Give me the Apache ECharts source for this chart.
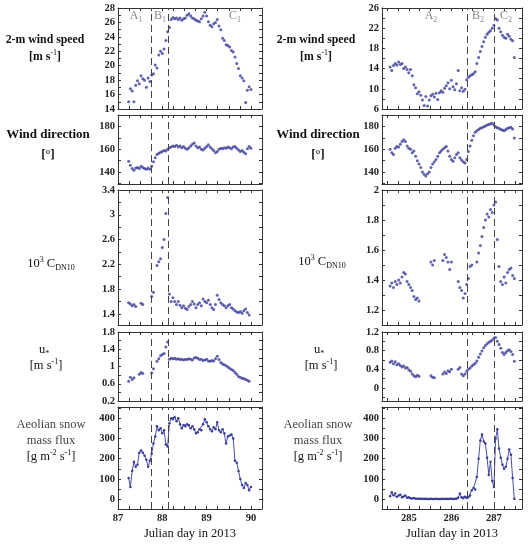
<!DOCTYPE html>
<html>
<head>
<meta charset="utf-8">
<script src="https://cdn.jsdelivr.net/npm/echarts@6/dist/echarts.min.js"></script>
<style>html,body{margin:0;padding:0;background:#fff}#main{width:528px;height:544px}</style>
</head>
<body>
<div id="main"></div>
<script>
// ---- data: Julian day 87-90 (left) and 284-287 (right), 2013
var dayL = [87.24, 87.28, 87.32, 87.36, 87.40, 87.44, 87.48, 87.52, 87.56, 87.60,
	87.64, 87.68, 87.72, 87.76, 87.80, 87.84, 87.88, 87.92, 87.96, 88.00,
	88.04, 88.08, 88.12, 88.16, 88.20, 88.24, 88.28, 88.32, 88.36, 88.40,
	88.44, 88.48, 88.52, 88.56, 88.60, 88.64, 88.68, 88.72, 88.76, 88.80,
	88.84, 88.88, 88.92, 88.96, 89.00, 89.04, 89.08, 89.12, 89.16, 89.20,
	89.24, 89.28, 89.32, 89.36, 89.40, 89.44, 89.48, 89.52, 89.56, 89.60,
	89.64, 89.68, 89.72, 89.76, 89.80, 89.84, 89.88, 89.92, 89.96, 90.00];
var windL = [15.0, 16.8, 16.5, 15.0, 17.3, 17.9, 17.5, 18.6, 18.2, 18.0,
	17.0, 18.3, 17.8, 18.7, 18.9, 20.1, 19.7, 21.5, 22.0, 21.7,
	22.3, 23.5, 24.7, 25.3, 26.4, 26.7, 26.5, 26.6, 26.4, 26.6,
	26.3, 26.5, 26.6, 27.0, 27.2, 26.9, 26.6, 26.5, 26.3, 26.2,
	26.1, 26.5, 26.9, 27.4, 26.9, 26.1, 25.6, 25.4, 25.8, 26.0,
	26.4, 25.5, 25.0, 23.8, 23.5, 22.9, 22.8, 22.6, 22.1, 21.9,
	21.2, 20.3, 19.6, 18.6, 18.3, 17.9, 14.9, 16.6, 17.1, 16.7];
var dirL = [149.5, 146.0, 143.0, 141.5, 143.5, 144.0, 143.0, 145.0, 144.0, 143.0,
	142.5, 143.5, 142.5, 145.0, 149.0, 152.5, 155.5, 156.5, 157.5, 158.0,
	159.0, 158.5, 160.0, 161.5, 162.0, 163.0, 162.5, 163.5, 162.0, 163.0,
	161.5, 162.5, 161.0, 160.0, 161.5, 163.0, 164.5, 165.5, 163.0, 161.5,
	162.0, 160.0, 159.5, 161.0, 162.5, 164.0, 162.0, 160.5, 159.0, 157.0,
	158.0, 160.0, 161.0, 160.5, 161.5, 161.0, 162.0, 161.5, 160.5, 162.0,
	162.5, 161.0, 159.5, 158.0, 159.0, 157.5, 156.0, 160.5, 162.5, 161.0];
var cdnL = [1.58, 1.56, 1.53, 1.55, 1.52, null, null, 1.57, 1.55, null,
	null, null, null, 1.68, 1.75, null, 2.18, 2.24, 2.29, 2.47,
	2.60, 3.02, 3.28, 1.72, 1.60, 1.66, 1.60, 1.55, 1.60, 1.54,
	1.50, 1.53, 1.49, 1.47, 1.52, 1.55, 1.60, 1.56, 1.50, 1.55,
	1.58, 1.53, 1.64, 1.60, 1.58, 1.62, 1.55, 1.50, 1.47, 1.55,
	1.70, 1.63, 1.58, 1.55, 1.53, 1.50, 1.53, 1.55, 1.50, 1.48,
	1.45, 1.43, 1.42, 1.44, 1.41, 1.45, 1.48, 1.42, 1.38, null];
var ustarL = [0.66, 0.75, 0.70, 0.74, null, null, 0.82, 0.86, 0.84, null,
	null, null, null, 0.85, 0.95, null, 1.12, 1.18, 1.25, 1.28,
	1.30, 1.45, 1.57, 1.17, 1.19, 1.18, 1.19, 1.17, 1.18, 1.16,
	1.17, 1.15, 1.17, 1.16, 1.18, 1.17, 1.15, 1.20, 1.21, 1.19,
	1.16, 1.17, 1.14, 1.15, 1.17, 1.13, 1.12, 1.14, 1.13, 1.18,
	1.24, 1.16, 1.09, 1.06, 1.04, 1.02, 0.99, 0.96, 0.93, 0.91,
	0.86, 0.82, 0.77, 0.75, 0.73, 0.72, 0.70, 0.68, 0.66, null];
var fluxL = [105, 60, 140, 185, 160, 170, 230, 240, 230, 215,
	195, 160, 190, 225, 275, 310, 360, 340, 350, 325,
	340, 270, 260, 375, 400, 395, 405, 385, 400, 370,
	350, 365, 360, 370, 365, 350, 360, 345, 325, 330,
	345, 340, 370, 395, 380, 360, 345, 335, 355, 345,
	380, 340, 330, 345, 325, 275, 310, 315, 320, 300,
	190, 180, 140, 100, 70, 55, 80, 70, 45, 60];

var dayR = [284.56, 284.60, 284.64, 284.68, 284.72, 284.76, 284.80, 284.84, 284.88, 284.92,
	284.96, 285.00, 285.04, 285.08, 285.12, 285.16, 285.20, 285.24, 285.28, 285.32,
	285.36, 285.40, 285.44, 285.48, 285.52, 285.56, 285.60, 285.64, 285.68, 285.72,
	285.76, 285.80, 285.84, 285.88, 285.92, 285.96, 286.00, 286.04, 286.08, 286.12,
	286.16, 286.20, 286.24, 286.28, 286.32, 286.36, 286.40, 286.44, 286.48, 286.52,
	286.56, 286.60, 286.64, 286.68, 286.72, 286.76, 286.80, 286.84, 286.88, 286.92,
	286.96, 287.00, 287.04, 287.08, 287.12, 287.16, 287.20, 287.24, 287.28, 287.32,
	287.36, 287.40, 287.44, 287.48];
var windR = [14.3, 13.6, 14.6, 15.0, 14.7, 15.3, 14.8, 15.0, 14.0, 14.3,
	13.8, 13.2, 13.8, 12.6, 10.8, 10.2, 9.0, 9.4, 8.7, 7.8,
	6.7, 8.5, 6.6, 7.8, 8.6, 8.9, 8.4, 9.1, 7.9, 9.2,
	9.6, 9.3, 10.1, 10.6, 11.2, 10.0, 11.7, 10.4, 9.8, 11.0,
	13.6, 9.6, 10.2, 9.5, 9.9, 11.8, 12.3, 12.6, 12.8, 13.0,
	13.4, 15.0, 16.2, 17.4, 18.4, 19.3, 20.2, 20.8, 21.2, 21.5,
	22.0, 22.6, 23.9, 23.6, 22.0, 21.3, 20.6, 20.2, 20.0, 20.8,
	20.4, 19.8, 19.5, 16.2];
var dirR = [160.0, 157.0, 155.5, 161.0, 162.5, 162.0, 164.5, 167.0, 168.5, 167.0,
	163.0, 161.0, 160.0, 157.0, 158.5, 154.0, 150.0, 147.0, 144.0, 140.0,
	138.0, 136.5, 138.5, 140.0, 144.0, 147.0, 149.0, 151.0, 154.0, 157.0,
	158.5, 160.0, 161.5, 162.5, 158.5, 154.0, 151.0, 149.5, 152.5, 155.5,
	157.0, 152.5, 150.5, 149.0, 148.0, 151.0, 158.0, 163.0, 168.0, 172.0,
	175.0, 176.5, 177.5, 178.5, 179.0, 180.0, 180.5, 181.5, 182.0, 182.5,
	183.0, 181.5, 180.0, 179.0, 178.5, 177.5, 177.0, 176.5, 177.5, 178.5,
	179.0, 179.5, 178.0, 170.0];
var cdnR = [1.36, 1.38, 1.35, 1.39, 1.37, 1.40, 1.38, 1.42, 1.45, 1.44,
	1.39, 1.37, 1.35, 1.33, 1.29, 1.27, 1.28, 1.26, null, null,
	null, null, null, null, 1.52, 1.50, 1.53, null, null, null,
	null, 1.53, 1.57, 1.55, 1.52, 1.47, 1.52, null, null, null,
	1.39, 1.35, 1.33, 1.28, 1.31, 1.37, 1.41, 1.49, 1.50, null,
	null, 1.52, 1.58, 1.63, 1.69, 1.75, 1.80, 1.84, 1.82, 1.87,
	1.85, 1.90, 1.92, 1.67, 1.49, 1.39, 1.37, 1.42, 1.38, 1.45,
	1.47, 1.48, 1.43, 1.41];
var ustarR = [0.55, 0.58, 0.52, 0.56, 0.50, 0.52, 0.48, 0.45, 0.47, 0.43,
	0.44, 0.39, 0.36, 0.30, 0.26, 0.24, 0.27, 0.25, null, null,
	null, null, null, null, 0.26, 0.23, 0.22, null, null, null,
	null, 0.30, 0.34, 0.31, 0.37, 0.35, 0.40, null, null, null,
	0.40, 0.44, 0.30, 0.26, 0.30, 0.36, 0.40, 0.43, 0.47, 0.50,
	0.53, 0.58, 0.66, 0.73, 0.79, 0.86, 0.91, 0.95, 0.98, 1.00,
	1.03, 1.07, 1.08, 1.00, 0.93, 0.85, 0.76, 0.72, 0.76, 0.80,
	0.82, 0.78, 0.72, 0.57];
var fluxR = [15, 35, 20, 28, 12, 18, 22, 10, 14, 18,
	8, 10, 5, 4, 6, 3, 2, 3, 2, 2,
	1, 2, 1, 1, 2, 1, 1, 2, 1, 1,
	1, 2, 1, 2, 1, 3, 2, 1, 2, 3,
	8, 28, 10, 5, 12, 6, 10, 18, 45, 55,
	48, 110, 200, 290, 320, 285, 275, 205, 120, 185,
	90, 60, 300, 345, 250, 205, 170, 150, 160, 200,
	245, 220, 105, 3];

// period boundaries (dashed lines)
var bounds = [[87.76, 88.13], [286.37, 287.0]];

// axis ranges and labelled ticks
var xRange = [[87, 90.25], [284.37, 287.66]];
var xLabels = [[87, 88, 89, 90], [285, 286, 287]];
var yRange = [
	[[14, 28], [129.4, 190.3], [1.22, 3.4], [0.2, 1.8], [-48, 455]],
	[[6, 26], [129.4, 190.3], [1.1, 2.0], [-0.28, 1.2], [-48, 455]]
];
var yLabels = [
	[[14, 16, 18, 20, 22, 24, 26, 28], [140, 160, 180], [1.4, 1.8, 2.2, 2.6, 3, 3.4], [0.2, 0.6, 1, 1.4, 1.8], [0, 100, 200, 300, 400]],
	[[6, 10, 14, 18, 22, 26], [140, 160, 180], [1.2, 1.4, 1.6, 1.8, 2], [0, 0.4, 0.8, 1.2], [0, 100, 200, 300, 400]]
];
var yStep = [[1, 10, 0.2, 0.2, 50], [2, 10, 0.1, 0.2, 50]];

// ---- layout
var colLeft = [118, 382];
var colWidth = [144, 140];
var panelTop = [8, 115, 190, 332, 407];
var panelHeight = [101, 69, 135, 69, 102];

var serif = "'Liberation Serif', 'DejaVu Serif', serif";
var dotColor = '#3a3c98';
var frame = '#333';

var cols = [
	{ days: dayL, vals: [windL, dirL, cdnL, ustarL, fluxL] },
	{ days: dayR, vals: [windR, dirR, cdnR, ustarR, fluxR] }
];

function tickList(first, step, min, max) {
	var v = first, out = [];
	while (v - step >= min - 1e-9) v -= step;
	for (; v <= max + 1e-9; v += step) out.push(Math.round(v * 1e6) / 1e6);
	return out;
}

var grid = [], xAxis = [], yAxis = [], series = [];
cols.forEach(function (col, c) {
	var xTicks = tickList(xLabels[c][0], 0.25, xRange[c][0], xRange[c][1]);
	for (var i = 0; i < 5; i++) {
		var g = grid.length;
		grid.push({ left: colLeft[c], top: panelTop[i], width: colWidth[c], height: panelHeight[i] });
		var yr = yRange[c][i];
		var yTicks = tickList(yLabels[c][i][0], yStep[c][i], yr[0], yr[1]);
		['bottom', 'top'].forEach(function (pos) {
			xAxis.push({
				gridIndex: g, type: 'value', position: pos, min: xRange[c][0], max: xRange[c][1],
				axisLine: { show: true, onZero: false, lineStyle: { color: frame } },
				axisTick: { show: true, inside: true, length: 3, customValues: xTicks, lineStyle: { color: frame } },
				axisLabel: {
					show: pos === 'bottom' && i === 4, customValues: xLabels[c], margin: 4,
					fontFamily: serif, fontSize: 10.5, fontWeight: 'bold', color: '#222'
				},
				splitLine: { show: false }
			});
		});
		['left', 'right'].forEach(function (pos) {
			yAxis.push({
				gridIndex: g, type: 'value', position: pos, min: yr[0], max: yr[1],
				axisLine: { show: true, onZero: false, lineStyle: { color: frame } },
				axisTick: { show: true, inside: true, length: 3, customValues: yTicks, lineStyle: { color: frame } },
				axisLabel: {
					show: pos === 'left', customValues: yLabels[c][i], margin: 3,
					fontFamily: serif, fontSize: 10.5, fontWeight: 'bold', color: '#222'
				},
				splitLine: { show: false }
			});
		});
		var data = [];
		col.days.forEach(function (d, k) {
			if (col.vals[i][k] != null) data.push([d, col.vals[i][k]]);
		});
		var s = {
			type: i === 4 ? 'line' : 'scatter',
			xAxisIndex: 2 * g, yAxisIndex: 2 * g,
			data: data,
			symbolSize: i === 4 ? 2.5 : 3,
			itemStyle: { color: dotColor },
			markLine: {
				silent: true, symbol: 'none', label: { show: false },
				lineStyle: { color: '#444', width: 1, type: [7, 4] },
				data: bounds[c].map(function (b) { return { xAxis: b }; })
			}
		};
		if (i === 4) {
			s.symbol = 'circle';
			s.showSymbol = true;
			s.lineStyle = { color: '#4a4caa', width: 1 };
		}
		series.push(s);
	}
});

// ---- text labels
var rich = {
	sup: { fontSize: 8, lineHeight: 9, verticalAlign: 'top', fontFamily: serif },
	sub: { fontSize: 8, lineHeight: 9, verticalAlign: 'bottom', fontFamily: serif }
};
function txt(x, y, text, opt) {
	var st = {
		text: text, x: 0, y: 0, fill: '#111', fontFamily: serif, fontSize: 12.5, lineHeight: 16,
		align: 'center', verticalAlign: 'middle', textAlign: 'center', textVerticalAlign: 'middle', rich: rich
	};
	for (var k in (opt || {})) st[k] = opt[k];
	return { type: 'text', x: x, y: y, silent: true, style: st };
}
var graphic = [];
[[45, 48, 51, 44, 51, 264], [316, 318, 322, 319, 318, 262]].forEach(function (p) {
	graphic.push(txt(p[0], 40, '2-m wind speed', { fontWeight: 'bold', fontSize: 11.8 }));
	graphic.push(txt(p[0], 57, '[m s{sup|-1}]', { fontWeight: 'bold', fontSize: 11.8 }));
	graphic.push(txt(p[1], 135, 'Wind direction', { fontWeight: 'bold', fontSize: 13 }));
	graphic.push(txt(p[1], 155, '[°]', { fontWeight: 'bold' }));
	graphic.push(txt(p[2], p[5], '10{sup|3} C{sub|DN10}'));
	graphic.push(txt(p[3], 350, 'u{sub|*}'));
	graphic.push(txt(p[3] + 2, 366, '[m s{sup|-1}]'));
	graphic.push(txt(p[4], 425, 'Aeolian snow', { fill: '#444' }));
	graphic.push(txt(p[4], 441, 'mass flux', { fill: '#444' }));
	graphic.push(txt(p[4], 457, '[g m{sup|-2} s{sup|-1}]'));
});
graphic.push(txt(190, 534, 'Julian day in 2013', { fontSize: 12.5 }));
graphic.push(txt(452, 534, 'Julian day in 2013', { fontSize: 12.5 }));
[['A{sub|1}', 136], ['B{sub|1}', 160], ['C{sub|1}', 235], ['A{sub|2}', 431], ['B{sub|2}', 478], ['C{sub|2}', 506]].forEach(function (r) {
	graphic.push(txt(r[1], 16, r[0], { fill: '#888', fontSize: 12 }));
});

var myChart = echarts.init(document.getElementById('main'));
var option = {
	animation: false,
	backgroundColor: '#fff',
	grid: grid,
	xAxis: xAxis,
	yAxis: yAxis,
	series: series,
	graphic: graphic
};
option && myChart.setOption(option);
</script>
</body>
</html>
